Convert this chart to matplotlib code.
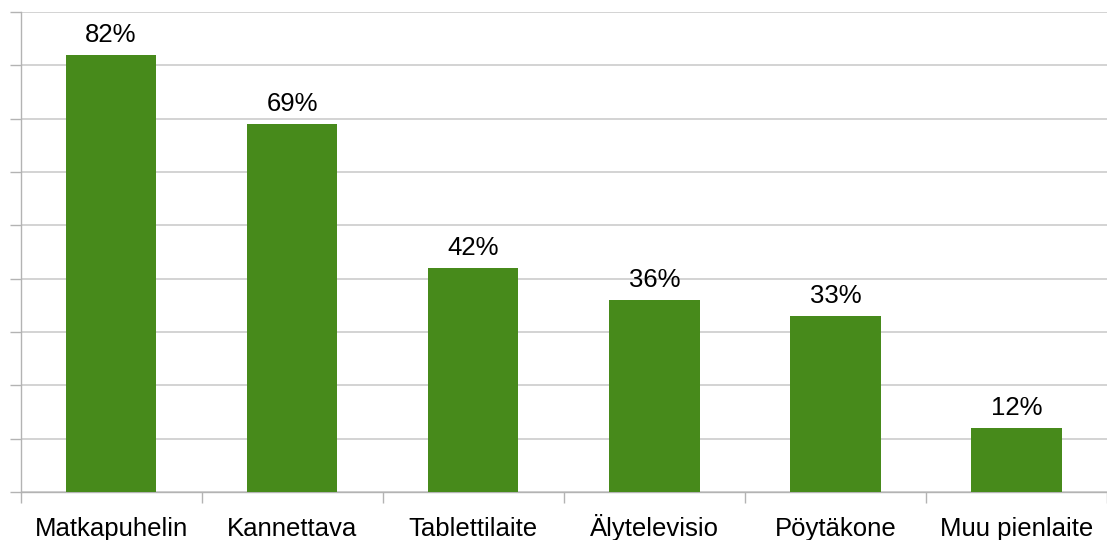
import matplotlib.pyplot as plt
import numpy as np

plt.rcParams['font.family'] = ['Liberation Sans', 'DejaVu Sans']

# Device usage shares
devices = ["Matkapuhelin", "Kannettava", "Tablettilaite", "Älytelevisio", "Pöytäkone", "Muu pienlaite"]
shares = [82, 69, 42, 36, 33, 12]

bar_color = "#478a1b"
grid_color = "#cccccc"
axis_color = "#b3b3b3"

fig = plt.figure(figsize=(11.07, 5.40), dpi=100)
ax = fig.add_axes([20.5 / 1107, 48 / 540, 1 - 20.5 / 1107, 480 / 540])

x = np.arange(len(devices))
bars = ax.bar(x, shares, width=0.5, color=bar_color, zorder=3)
ax.bar_label(bars, labels=[f"{v}%" for v in shares], padding=5.5, fontsize=18.5)

ax.set_xlim(-0.5, len(devices) - 0.5)
ax.set_ylim(0, 90)

# horizontal grid every 10 %, ticks pointing outward without labels
ax.set_yticks(np.arange(0, 91, 10))
ax.set_yticklabels([])
ax.tick_params(axis='y', length=8, width=1, color=axis_color, direction='out')
ax.grid(axis='y', color=grid_color, linewidth=1.2, zorder=0)

# category boundaries get tick marks, centres get the labels
ax.set_xticks(np.arange(-0.5, len(devices), 1.0))
ax.set_xticklabels([])
ax.set_xticks(x, minor=True)
ax.set_xticklabels(devices, minor=True, fontsize=18.5)
ax.tick_params(axis='x', which='major', length=8, width=1, color=axis_color)
ax.tick_params(axis='x', which='minor', length=0, pad=31.5)
# keep all category names on one common baseline
for lbl in ax.get_xticklabels(minor=True):
    lbl.set_verticalalignment('baseline')

for side in ['top', 'right']:
    ax.spines[side].set_visible(False)
for side in ['left', 'bottom']:
    ax.spines[side].set_color(axis_color)
    ax.spines[side].set_linewidth(1)

fig.savefig("out.png", dpi=100)
